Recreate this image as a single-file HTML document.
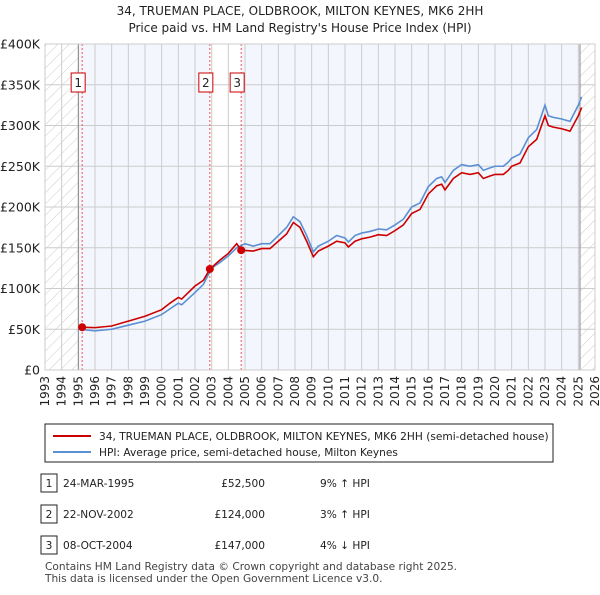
<!DOCTYPE html>
<html><head><meta charset="utf-8"><style>
body{margin:0;background:#fff;font-family:"Liberation Sans","DejaVu Sans",sans-serif;}
svg text{font-family:"DejaVu Sans","Liberation Sans",sans-serif;}
</style></head><body>
<svg id="c" width="600" height="590" xmlns="http://www.w3.org/2000/svg">
<defs><pattern id="hatch" width="8" height="8" patternUnits="userSpaceOnUse" patternTransform="rotate(45)"><line x1="0" y1="0" x2="0" y2="8" stroke="#ccc" stroke-width="1"/></pattern></defs>
<text x="300" y="15" text-anchor="middle" font-size="12" fill="#222">34, TRUEMAN PLACE, OLDBROOK, MILTON KEYNES, MK6 2HH</text>
<text x="300" y="32" text-anchor="middle" font-size="12" fill="#222">Price paid vs. HM Land Registry's House Price Index (HPI)</text>
<g id="plot"></g>
<g>
<rect x="45" y="424" width="508" height="38" fill="#fff" stroke="#222"/>
<line x1="53" y1="436" x2="91" y2="436" stroke="#cc0000" stroke-width="2"/>
<text x="99" y="440" font-size="10.6" fill="#222">34, TRUEMAN PLACE, OLDBROOK, MILTON KEYNES, MK6 2HH (semi-detached house)</text>
<line x1="53" y1="452" x2="91" y2="452" stroke="#5b8fd4" stroke-width="2"/>
<text x="99" y="456" font-size="10.6" fill="#222">HPI: Average price, semi-detached house, Milton Keynes</text>
</g>
<g id="table" font-size="10.6" fill="#222"></g>
<text x="45" y="570" font-size="10.6" fill="#444">Contains HM Land Registry data © Crown copyright and database right 2025.</text>
<text x="45" y="582" font-size="10.6" fill="#444">This data is licensed under the Open Government Licence v3.0.</text>
</svg>
<script>
const hpiYears=[1995,1996,1997,1998,1999,2000,2000.5,2001,2001.2,2002,2002.5,2003,2003.5,2004,2004.5,2005,2005.5,2006,2006.5,2007,2007.5,2007.9,2008.3,2008.7,2009.1,2009.4,2010,2010.5,2011,2011.2,2011.6,2012,2012.5,2013,2013.5,2014,2014.5,2015,2015.5,2016,2016.5,2016.8,2017,2017.5,2018,2018.5,2019,2019.3,2019.7,2020,2020.5,2020.8,2021,2021.5,2022,2022.5,2023,2023.2,2023.5,2024,2024.5,2025,2025.2];
const hpiValues=[50,48,50,55,60,68,75,82,80,95,105,125,132,140,150,155,152,155,155,165,175,188,182,165,145,152,158,165,162,157,165,168,170,173,172,178,185,200,205,225,235,237,230,245,252,250,252,245,248,250,250,255,260,265,285,295,325,312,310,308,305,325,335];
const priceYears=[1995.23,1996,1997,1998,1999,2000,2000.5,2001,2001.2,2002,2002.5,2002.9,2003.5,2004,2004.5,2004.77,2005.5,2006,2006.5,2007,2007.5,2007.9,2008.3,2008.7,2009.1,2009.4,2010,2010.5,2011,2011.2,2011.6,2012,2012.5,2013,2013.5,2014,2014.5,2015,2015.5,2016,2016.5,2016.8,2017,2017.5,2018,2018.5,2019,2019.3,2019.7,2020,2020.5,2020.8,2021,2021.5,2022,2022.5,2023,2023.2,2023.5,2024,2024.5,2025,2025.2];
const priceValues=[52.5,52,54,60,66,74,82,89,87,103,110,124,135,143,155,147,146,149,149,158,167,181,175,158,139,146,152,158,156,151,158,161,163,166,165,171,178,192,197,216,226,228,221,235,242,240,242,235,238,240,240,245,250,254,274,283,312,300,298,296,293,312,322];
const saleLabels=["1","2","3"];
const saleYears=[1995.23,2002.89,2004.77];
const saleValues=[52.5,124,147];
const saleDates=["24-MAR-1995","22-NOV-2002","08-OCT-2004"];
const salePrices=["£52,500","£124,000","£147,000"];
const saleHpi=["9% ↑ HPI","3% ↑ HPI","4% ↓ HPI"];
const yTicks=[0,50,100,150,200,250,300,350,400];
const yTickLabels=["£0","£50K","£100K","£150K","£200K","£250K","£300K","£350K","£400K"];
const xMin=1993,xMax=2026,dataEnd=2025.1;

const L=45,R=595,T=44,B=370,NS="http://www.w3.org/2000/svg";
const X=v=>L+(v-xMin)/(xMax-xMin)*(R-L);
const Y=v=>B-v/400*(B-T);
const g=document.getElementById('plot');
function mk(tag,at,parent){const e=document.createElementNS(NS,tag);for(const k in at)e.setAttribute(k,at[k]);(parent||g).appendChild(e);return e;}
let e;
e=mk('rect',{x:L,y:T,width:R-L,height:B-T,fill:'#fff'});


e=mk('rect',{x:X(1995),y:T,width:X(saleYears[1])-X(1995),height:B-T,fill:'#f3f6fd'});


e=mk('rect',{x:X(saleYears[2]),y:T,width:X(dataEnd)-X(saleYears[2]),height:B-T,fill:'#f3f6fd'});


e=mk('rect',{x:L,y:T,width:X(1995)-L,height:B-T,fill:'url(#hatch)'});


e=mk('rect',{x:X(dataEnd),y:T,width:R-X(dataEnd),height:B-T,fill:'url(#hatch)'});


for(let yr=xMin;yr<=xMax;yr++){
 e=mk('line',{x1:X(yr),x2:X(yr),y1:T,y2:B,stroke:'#ccc','stroke-width':1});
 
 
 e=mk('text',{transform:`translate(${X(yr)+4},376) rotate(-90)`,'text-anchor':'end','font-size':12,fill:'#222'});
 e.textContent=yr;
 
 
}
yTicks.forEach((v,i)=>{
 e=mk('line',{x1:L,x2:R,y1:Y(v),y2:Y(v),stroke:'#ccc','stroke-width':1});
 
 
 e=mk('text',{x:40,y:Y(v)+4.5,'text-anchor':'end','font-size':12.5,fill:'#222'});
 e.textContent=yTickLabels[i];
 
 
});
e=mk('line',{x1:X(1995),x2:X(1995),y1:T,y2:B,stroke:'#888','stroke-width':1});


e=mk('line',{x1:X(dataEnd),x2:X(dataEnd),y1:T,y2:B,stroke:'#888','stroke-width':1});


saleYears.forEach((yr,i)=>{
 e=mk('line',{x1:X(yr),x2:X(yr),y1:T,y2:B,stroke:'#e55','stroke-width':1,'stroke-dasharray':'2,2'});
 
 
 e=mk('rect',{x:X(yr)-11,y:73,width:14,height:19,fill:'#fff',stroke:'#cc0000'});
 
 
 e=mk('text',{x:X(yr)-4,y:87,'text-anchor':'middle','font-size':12,fill:'#222'});
 e.textContent=saleLabels[i];
 
 
});
e=mk('polyline',{points:hpiYears.map((y,i)=>X(y)+','+Y(hpiValues[i])).join(' '),fill:'none',stroke:'#5b8fd4','stroke-width':1.6});


e=mk('polyline',{points:priceYears.map((y,i)=>X(y)+','+Y(priceValues[i])).join(' '),fill:'none',stroke:'#cc0000','stroke-width':1.6});


saleYears.forEach((yr,i)=>{
 e=mk('circle',{cx:X(yr),cy:Y(saleValues[i]),r:4,fill:'#cc0000'});
 
 
});
e=mk('rect',{x:L,y:T,width:R-L,height:B-T,fill:'none',stroke:'#ccc'});


const tb=document.getElementById('table');
const rowY=[486,517,548];
saleLabels.forEach((lab,i)=>{
 const y=rowY[i];
 e=mk('rect',{x:41,y:y-12,width:16,height:18,fill:'#fff',stroke:'#222'},tb);
 
 
 e=mk('text',{x:49,y:y+1,'text-anchor':'middle'},tb);e.textContent=lab;
 
 
 e=mk('text',{x:63,y:y+1},tb);e.textContent=saleDates[i];
 
 
 e=mk('text',{x:265,y:y+1,'text-anchor':'end'},tb);e.textContent=salePrices[i];
 
 
 e=mk('text',{x:320,y:y+1},tb);e.textContent=saleHpi[i];
 
 
});
</script>
</body></html>
